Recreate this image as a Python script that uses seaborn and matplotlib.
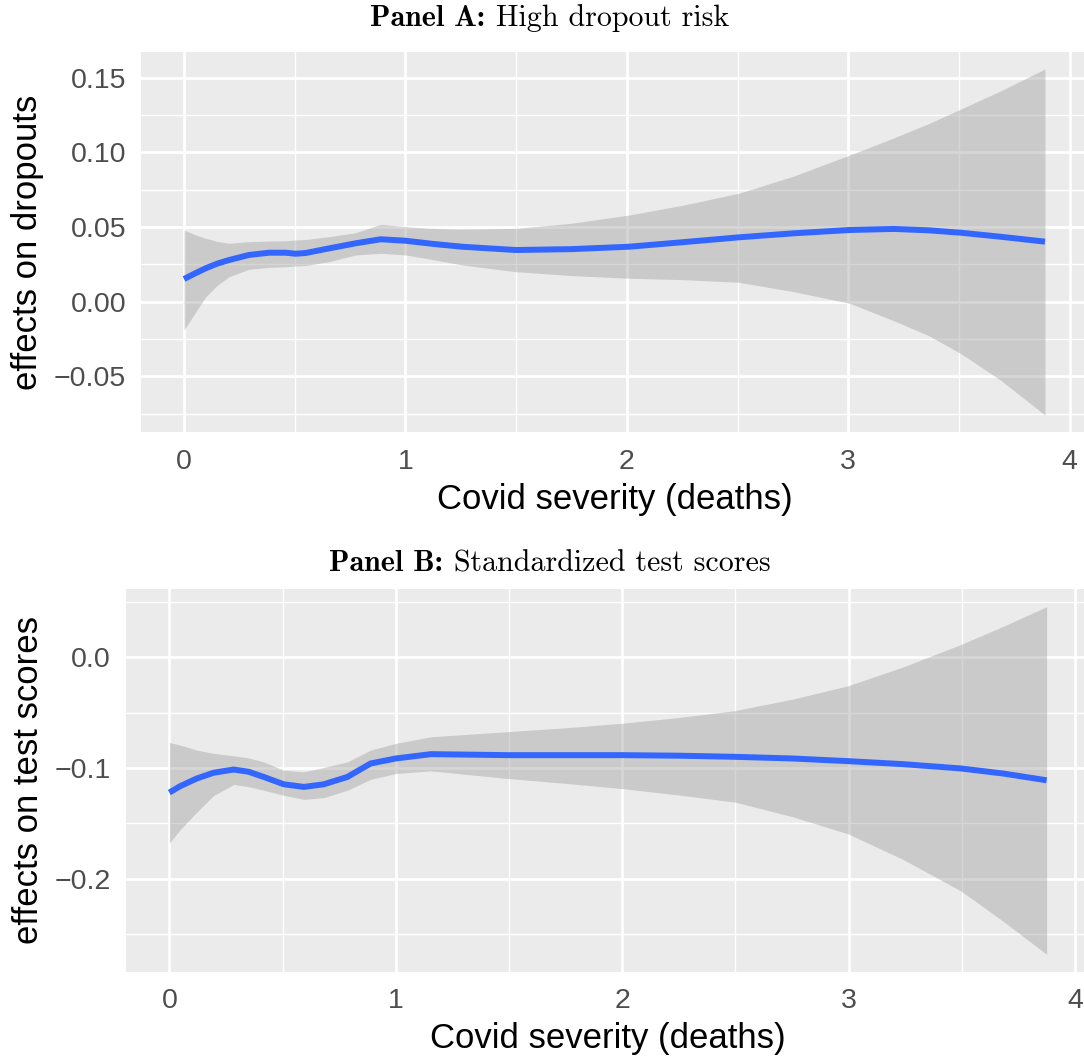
import numpy as np
import pandas as pd
import matplotlib
matplotlib.use("Agg")
import matplotlib.pyplot as plt
from matplotlib.ticker import FixedLocator, FuncFormatter
import seaborn as sns

# ---- Panel A: effects on dropouts (smoothed fit with confidence band) ----
deaths_a = [0.000, 0.050, 0.098, 0.150, 0.203, 0.293, 0.384, 0.459, 0.504, 0.549,
            0.655, 0.775, 0.888, 1.001, 1.130, 1.257, 1.498, 1.750, 2.009, 2.250,
            2.506, 2.754, 3.007, 3.205, 3.360, 3.506, 3.687, 3.888]
fit_a = [0.0152, 0.0190, 0.0224, 0.0255, 0.0279, 0.0313, 0.0328, 0.0328, 0.0321, 0.0326,
         0.0357, 0.0391, 0.0418, 0.0408, 0.0386, 0.0368, 0.0346, 0.0352, 0.0368, 0.0398,
         0.0431, 0.0458, 0.0480, 0.0487, 0.0478, 0.0462, 0.0435, 0.0402]
upper_a = [0.0480, 0.0448, 0.0424, 0.0404, 0.0391, 0.0402, 0.0406, 0.0408, 0.0413, 0.0416,
           0.0435, 0.0462, 0.0518, 0.0502, 0.0490, 0.0485, 0.0491, 0.0525, 0.0580, 0.0645,
           0.0726, 0.0841, 0.0982, 0.1096, 0.1190, 0.1288, 0.1410, 0.1558]
lower_a = [-0.0189, -0.0075, 0.0033, 0.0110, 0.0167, 0.0217, 0.0230, 0.0234, 0.0239, 0.0242,
           0.0268, 0.0313, 0.0324, 0.0313, 0.0280, 0.0246, 0.0201, 0.0175, 0.0157, 0.0148,
           0.0130, 0.0067, -0.0011, -0.0127, -0.0225, -0.0345, -0.0524, -0.0758]

# ---- Panel B: effects on standardized test scores ----
deaths_b = [0.000, 0.047, 0.121, 0.195, 0.284, 0.350, 0.417, 0.505, 0.594, 0.682,
            0.786, 0.889, 1.000, 1.155, 1.495, 1.750, 2.000, 2.250, 2.497, 2.750,
            2.996, 3.238, 3.494, 3.682, 3.874]
fit_b = [-0.1223, -0.1166, -0.1096, -0.1044, -0.1015, -0.1035, -0.1082, -0.1148, -0.1172, -0.1148,
         -0.1082, -0.0960, -0.0915, -0.0876, -0.0885, -0.0885, -0.0885, -0.0890, -0.0900, -0.0915,
         -0.0939, -0.0966, -0.1005, -0.1051, -0.1112]
upper_b = [-0.0770, -0.0794, -0.0839, -0.0869, -0.0891, -0.0910, -0.0946, -0.1021, -0.1036, -0.0996,
           -0.0946, -0.0839, -0.0779, -0.0719, -0.0673, -0.0638, -0.0597, -0.0545, -0.0483, -0.0380,
           -0.0259, -0.0090, 0.0113, 0.0278, 0.0456]
lower_b = [-0.1680, -0.1560, -0.1400, -0.1250, -0.1150, -0.1170, -0.1202, -0.1248, -0.1284, -0.1269,
           -0.1202, -0.1103, -0.1051, -0.1027, -0.1096, -0.1140, -0.1187, -0.1245, -0.1309, -0.1440,
           -0.1595, -0.1825, -0.2110, -0.2385, -0.2684]

x_ticks = [0, 1, 2, 3, 4]
x_minor = [0.5, 1.5, 2.5, 3.5]
y_ticks_a = [-0.05, 0.00, 0.05, 0.10, 0.15]
y_minor_a = [-0.075, -0.025, 0.025, 0.075, 0.125]
y_ticks_b = [-0.2, -0.1, 0.0]
y_minor_b = [-0.25, -0.15, -0.05, 0.05]

x_title = "Covid severity (deaths)"
y_title_a = "effects on dropouts"
y_title_b = "effects on test scores"

sns.set_theme(style="darkgrid")
plt.rcParams.update({
    "axes.facecolor": "#EBEBEB",
    "grid.color": "white",
    "axes.edgecolor": "none",
    "axes.linewidth": 0,
    "xtick.color": "#333333",
    "ytick.color": "#333333",
    "xtick.labelcolor": "#4D4D4D",
    "ytick.labelcolor": "#4D4D4D",
    "axes.unicode_minus": True,
})
plt.rcParams["font.family"] = ["Liberation Sans", "DejaVu Sans"]

W, H = 1084, 1056
fig = plt.figure(figsize=(W / 100, H / 100), dpi=100, facecolor="white")


def expand(lo, hi, frac=0.05):
    pad = (hi - lo) * frac
    return lo - pad, hi + pad


def style_panel(ax, yt, ymin, decimals, ylab):
    ax.xaxis.set_major_locator(FixedLocator(x_ticks))
    ax.xaxis.set_minor_locator(FixedLocator(x_minor))
    ax.yaxis.set_major_locator(FixedLocator(yt))
    ax.yaxis.set_minor_locator(FixedLocator(ymin))
    ax.xaxis.set_major_formatter(FuncFormatter(lambda v, p: f"{v:.0f}"))
    ax.yaxis.set_major_formatter(
        FuncFormatter(lambda v, p: f"{v:.{decimals}f}".replace("-", "\u2212")
                      if abs(v) > 1e-12 else f"{0:.{decimals}f}"))
    ax.grid(which="major", color="white", linewidth=1.95)
    ax.grid(which="minor", color="white", linewidth=0.95)
    ax.tick_params(which="major", length=6.2, width=2.0, labelsize=20.5, pad=4.5)
    ax.tick_params(axis="x", which="major", pad=5.5)
    ax.tick_params(which="minor", length=0)
    for s in ax.spines.values():
        s.set_visible(False)
    ax.set_xlabel(x_title, fontsize=25, color="black", labelpad=6)
    ax.set_ylabel(ylab, fontsize=25, color="black", labelpad=7)


def draw_panel(ax, xs, fit, lo, hi):
    ax.fill_between(xs, lo, hi, color="#999999", alpha=0.4, linewidth=0, zorder=2)
    sns.lineplot(x=xs, y=fit, ax=ax, color="#3366FF", linewidth=4.3, zorder=3,
                 estimator=None, sort=False)
    for ln in ax.lines:
        ln.set_solid_joinstyle("round")
        ln.set_solid_capstyle("butt")
    ax.set_xlim(*expand(min(xs), max(xs)))
    ax.set_ylim(*expand(min(lo), max(hi)))


# panel frames in pixels: left, top, right, bottom
ax_a = fig.add_axes([141 / W, 1 - 432.3 / H, 947 / W, (432.3 - 51.6) / H])
ax_b = fig.add_axes([125.5 / W, 1 - 971.7 / H, 965 / W, (971.7 - 589.3) / H])

draw_panel(ax_a, deaths_a, fit_a, lower_a, upper_a)
draw_panel(ax_b, deaths_b, fit_b, lower_b, upper_b)
style_panel(ax_a, y_ticks_a, y_minor_a, 2, y_title_a)
style_panel(ax_b, y_ticks_b, y_minor_b, 1, y_title_b)


def panel_title(y_px, bold, rest, size=21.6, cx_px=550):
    r = fig.canvas.get_renderer()
    yb = 1 - y_px / H
    t1 = fig.text(0, yb, bold, fontfamily="cmb10", fontsize=size, va="baseline",
                  color="black")
    t2 = fig.text(0, yb, rest, fontfamily="cmr10", fontsize=size, va="baseline",
                  color="black")
    w1 = t1.get_window_extent(r).width
    w2 = t2.get_window_extent(r).width
    gap = size * 100 / 72 * 0.36
    x0 = cx_px - (w1 + gap + w2) / 2
    t1.set_x(x0 / W)
    t2.set_x((x0 + w1 + gap) / W)


panel_title(26, "Panel A:", "High dropout risk")
panel_title(571, "Panel B:", "Standardized test scores")

fig.savefig("out.png", dpi=100, facecolor="white")
